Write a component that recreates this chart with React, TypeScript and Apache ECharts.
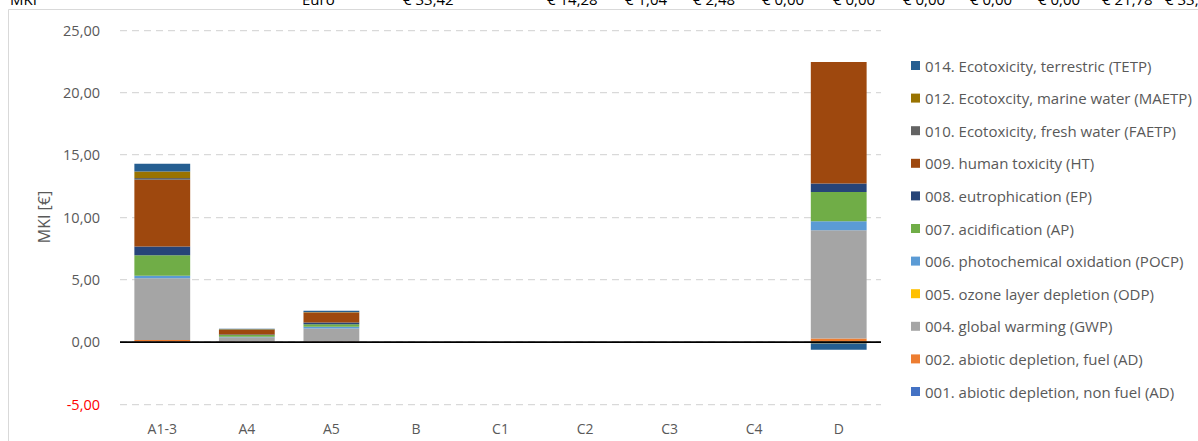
import React, { useEffect, useRef } from "react";
import * as echarts from "echarts";

const categories = ["A1-3", "A4", "A5", "B", "C1", "C2", "C3", "C4", "D"];

const seriesNames = [
  "001. abiotic depletion, non fuel (AD)",
  "002. abiotic depletion, fuel (AD)",
  "004. global warming (GWP)",
  "005. ozone layer depletion (ODP)",
  "006. photochemical oxidation (POCP)",
  "007. acidification (AP)",
  "008. eutrophication (EP)",
  "009. human toxicity (HT)",
  "010. Ecotoxicity, fresh water (FAETP)",
  "012. Ecotoxcity, marine water (MAETP)",
  "014. Ecotoxicity, terrestric (TETP)",
];

const adNonFuel = [0.01, 0.0, 0.01, 0, 0, 0, 0, 0, 0.02];
const adFuel = [0.13, 0.02, 0.03, 0, 0, 0, 0, 0, 0.24];
const gwp = [4.95, 0.33, 1.02, 0, 0, 0, 0, 0, 8.68];
const odp = [0.0, 0.0, 0.0, 0, 0, 0, 0, 0, 0.0];
const pocp = [0.19, 0.05, 0.13, 0, 0, 0, 0, 0, 0.72];
const ap = [1.66, 0.13, 0.21, 0, 0, 0, 0, 0, 2.35];
const ep = [0.7, 0.05, 0.13, 0, 0, 0, 0, 0, 0.67];
const ht = [5.35, 0.37, 0.8, 0, 0, 0, 0, 0, 9.76];
const faetp = [0.13, 0.01, 0.02, 0, 0, 0, 0, 0, 0.0];
const maetp = [0.53, 0.03, 0.03, 0, 0, 0, 0, 0, -0.15];
const tetp = [0.63, 0.05, 0.1, 0, 0, 0, 0, 0, -0.5];

const seriesValues = [adNonFuel, adFuel, gwp, odp, pocp, ap, ep, ht, faetp, maetp, tetp];

const seriesColors = [
  "#4472C4",
  "#ED7D31",
  "#A5A5A5",
  "#FFC000",
  "#5B9BD5",
  "#70AD47",
  "#264478",
  "#9E480E",
  "#636363",
  "#997300",
  "#255E91",
];

// Partially visible spreadsheet row above the chart
const headerTexts = [
  "MKI",
  "Euro",
  "€ 33,42",
  "€ 14,28",
  "€ 1,04",
  "€ 2,48",
  "€ 0,00",
  "€ 0,00",
  "€ 0,00",
  "€ 0,00",
  "€ 0,00",
  "€ 21,78",
  "€ 33,42",
];
const headerX = [10, 302, 403, 547, 625, 693, 762, 833, 903, 970, 1038, 1102, 1165];

const FONT = "'Open Sans', 'Noto Sans', sans-serif";
const GRAY = "#595959";

export default function App() {
  const ref = useRef<HTMLDivElement>(null);

  useEffect(() => {
    if (!ref.current) return;
    const chart = echarts.init(ref.current, undefined, { renderer: "svg" });

    const series: any[] = seriesNames.map((name, i) => ({
      name,
      type: "bar",
      stack: "mki",
      barWidth: "66%",
      data: seriesValues[i],
      itemStyle: { color: seriesColors[i] },
      emphasis: { disabled: true },
    }));
    series[series.length - 1].markLine = {
      silent: true,
      symbol: "none",
      label: { show: false },
      lineStyle: { color: "#000000", width: 1.75, type: "solid" },
      data: [{ yAxis: 0 }],
      z: 10,
    };

    const graphics: any[] = [
      {
        type: "rect",
        shape: { x: 8.5, y: 9.5, width: 1300, height: 600 },
        style: { fill: "none", stroke: "#D9D9D9", lineWidth: 1 },
        silent: true,
        z: -10,
      },
      ...headerTexts.map((t, i) => ({
        type: "text",
        x: headerX[i],
        y: -1.5,
        style: {
          text: t,
          fill: "#000000",
          font: `15px ${FONT}`,
          textAlign: "left",
          textVerticalAlign: "middle",
        },
        silent: true,
      })),
    ];

    chart.setOption({
      animation: false,
      backgroundColor: "#FFFFFF",
      textStyle: { fontFamily: FONT },
      grid: { left: 120, right: 317, top: 30, bottom: 37, containLabel: false },
      legend: {
        orient: "vertical",
        left: 906,
        top: 53,
        icon: "rect",
        itemWidth: 9,
        itemHeight: 9,
        itemGap: 17.6,
        data: [...seriesNames].reverse(),
        textStyle: { color: GRAY, fontSize: 15, fontFamily: FONT },
        selectedMode: false,
      },
      xAxis: {
        type: "category",
        data: categories,
        axisLine: { show: false, onZero: false },
        axisTick: { show: false },
        axisLabel: { color: GRAY, fontSize: 14, margin: 17, fontFamily: FONT },
        splitLine: { show: false },
      },
      yAxis: {
        type: "value",
        min: -5,
        max: 25,
        interval: 5,
        name: "MKI [€]",
        nameLocation: "middle",
        nameGap: 66,
        nameTextStyle: { color: GRAY, fontSize: 16, fontFamily: FONT },
        axisLine: { show: false },
        axisTick: { show: false },
        axisLabel: {
          fontSize: 14.5,
          margin: 20,
          fontFamily: FONT,
          formatter: (v: number) => v.toFixed(2).replace(".", ","),
          color: (v: any) => (Number(v) < 0 ? "#FF0000" : GRAY),
        },
        splitLine: {
          lineStyle: { color: "#D9D9D9", width: 1.25, type: [7, 5] },
        },
      },
      graphic: graphics,
      series,
    });

    return () => chart.dispose();
  }, []);

  return (
    <div
      ref={ref}
      style={{ position: "absolute", left: 0, top: 0, width: 1198, height: 441 }}
    />
  );
}
